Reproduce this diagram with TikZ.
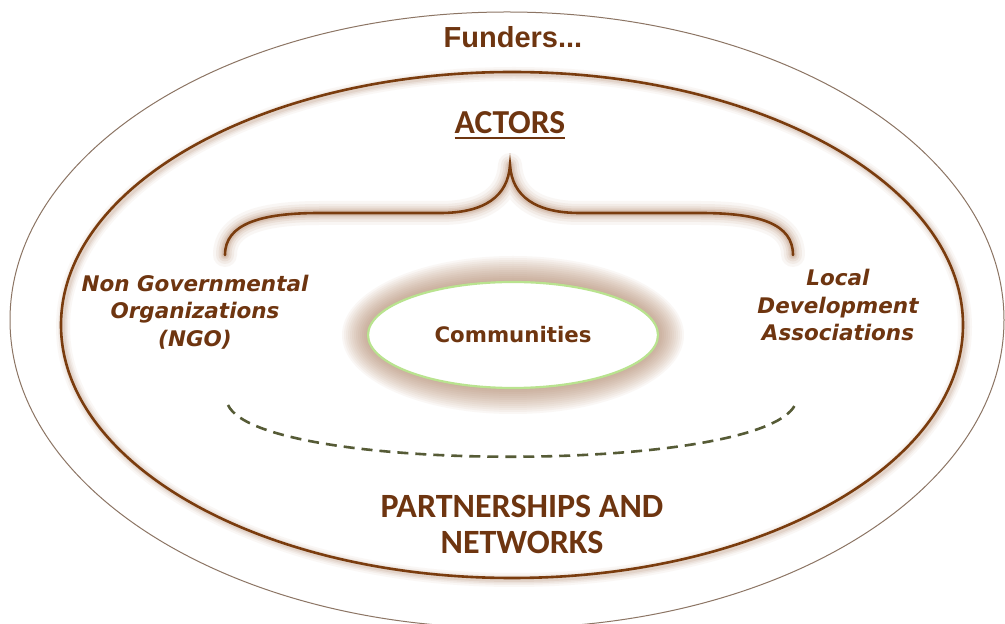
\documentclass[tikz,border=0pt]{standalone}
\usepackage{fontspec}
\usetikzlibrary{shapes.geometric}
\setmainfont{Carlito}
\newfontfamily\djfont{DejaVu Sans}
\newfontfamily\libfont{Liberation Sans}
\definecolor{txtbrown}{HTML}{6E3510}
\definecolor{linebrown}{HTML}{7A3C0E}
\definecolor{glowbrown}{HTML}{A4724E}
\definecolor{outerline}{HTML}{8C7564}
\definecolor{commgreen}{HTML}{B9E38F}
\definecolor{dashgreen}{HTML}{565B36}
\tikzset{
  lbl/.style={text=txtbrown, align=center, inner sep=0pt},
  glowline/.style={draw=glowbrown, line cap=round, line join=round},
}
\begin{document}
\begin{tikzpicture}[x=1pt,y=1pt]
\useasboundingbox (0,0) rectangle (1005,624);
\fill[white] (0,0) rectangle (1005,624);
% outer ellipse
\draw[outerline, line width=1pt] (507,304) ellipse [x radius=497, y radius=308];
% inner ellipse glow
\foreach \w/\o in {14/0.05,10/0.07,7/0.09,4/0.12}{
  \draw[glowbrown, line width=\w pt, opacity=\o] (514,297) ellipse [x radius=451, y radius=253];
}
\draw[linebrown, line width=2.6pt] (512,299) ellipse [x radius=451, y radius=253];
% communities halo
\foreach \r in {26,24,...,2}{
  \fill[glowbrown, opacity=0.055] (513,289) ellipse [x radius=145+\r, y radius=53+\r];
}
\node[draw=commgreen, line width=2.2pt, fill=white, ellipse, minimum width=290pt, minimum height=106pt, inner sep=0pt] (comm) at (513,289) {};
\node[lbl, font=\djfont\bfseries\fontsize{21.3}{24}\selectfont] (commtxt) at (513,289) {Communities};
% brace
\def\bracepath{(225,369) .. controls (225,400) and (260,411) .. (320,411) -- (440,411) .. controls (485,411) and (508,428) .. (510,459) .. controls (512,428) and (535,411) .. (580,411) -- (700,411) .. controls (760,411) and (793,400) .. (793,369)}
\foreach \w/\o in {24/0.06,18/0.08,13/0.1,9/0.12,6/0.15}{
  \draw[glowline, line width=\w pt, opacity=\o] \bracepath;
}
\draw[linebrown, line width=2.6pt, line cap=round] \bracepath;
% dashed arc
\coordinate (dl) at (228,219);
\coordinate (dr) at (795,219);
\draw[dashgreen, line width=2.6pt, dash pattern=on 11pt off 7pt] (dl) .. controls (260,150) and (760,150) .. (dr);
% texts
\node[lbl, font=\libfont\bfseries\fontsize{29}{32}\selectfont] (fund) at (513,587) {Funders...};
\node[lbl, font=\bfseries\fontsize{33.5}{36}\selectfont] (actors) at (510,501) {ACTORS};
\draw[txtbrown, line width=1.6pt] ([yshift=-4pt]actors.south west) -- ([yshift=-4pt]actors.south east);
\node[lbl, font=\djfont\bfseries\itshape\fontsize{21.5}{27.5}\selectfont] (ngo) at (195,312) {Non Governmental\\Organizations\\(NGO)};
\node[lbl, font=\djfont\bfseries\itshape\fontsize{21.5}{27.5}\selectfont] (lda) at (838,319) {Local\\Development\\Associations};
\node[lbl, font=\bfseries\fontsize{34}{36}\selectfont] (pn) at (522,100) {PARTNERSHIPS AND\\NETWORKS};
\end{tikzpicture}
\end{document}
